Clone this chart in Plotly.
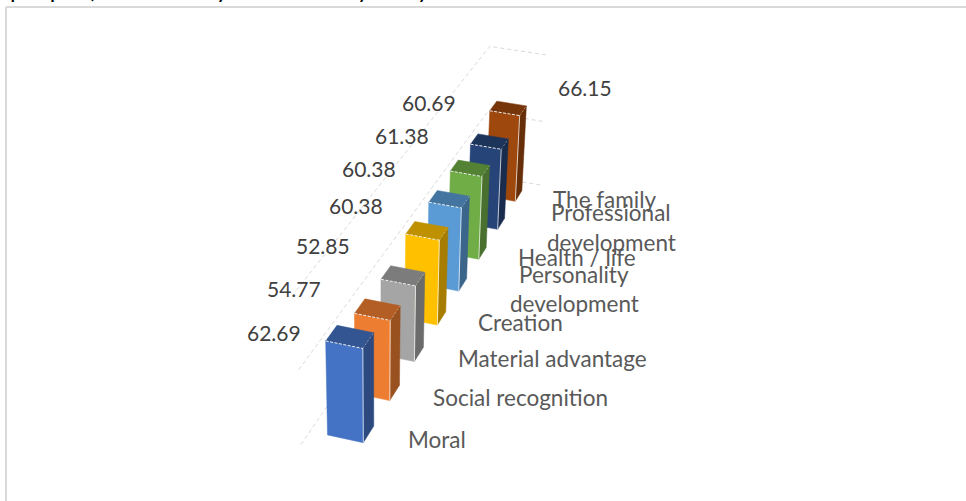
import numpy as np
import plotly.graph_objects as go

# Chart data
categories = ["Moral", "Social recognition", "Material advantage", "Creation",
              "Personality development", "Health / life",
              "Professional development", "The family"]
values = [62.69, 54.77, 52.85, 60.38, 60.38, 61.38, 60.69, 66.15]
colors = ["#4472C4", "#ED7D31", "#A5A5A5", "#FFC000",
          "#5B9BD5", "#70AD47", "#264478", "#9E480E"]
gridline_values = [0, 50, 100]

# Label placement, in page pixels (centre of each text line)
value_label_xy = [(274, 332), (294, 288), (323, 245), (356, 205),
                  (369, 168), (402, 135), (429, 102), (585, 87)]
category_label_lines = [
    ("Moral", 437, 439),
    ("Social recognition", 520, 397),
    ("Material advantage", 552, 358),
    ("Creation", 520, 322),
    ("Personality", 574, 274),
    ("development", 574, 303),
    ("Health / life", 577, 257),
    ("Professional", 611, 212),
    ("development", 611, 242),
    ("The family", 605, 199),
]
# Caption of the page above the chart, cut by the top edge
caption_pieces = [("people (", 8), ("y", 214), ("y", 355), ("y", 415)]

WIDTH, HEIGHT = 966, 501

# Perspective camera of the 3-D column chart: (across, slot / 8, value / 100, 1) -> screen
CAMERA = np.array([
    [66.886, 331.2222, -22.0039, 301.01],
    [10.4584, -215.5409, -171.1568, 444.45653],
    [-0.01106, 0.30459, -0.05851, 1.0],
])
COLUMN_LEFT, COLUMN_RIGHT, COLUMN_HALF_DEPTH = 0.24966, 0.75926, 0.19283
TOP_SHADE, SIDE_SHADE = 0.75, 0.65


def project(points):
    """Map (across, slot, value) points to screen x and y lists."""
    pts = np.array(points, dtype=float)
    h = np.c_[pts[:, 0], pts[:, 1] / 8, pts[:, 2] / 100, np.ones(len(pts))] @ CAMERA.T
    return list(h[:, 0] / h[:, 2]), list(h[:, 1] / h[:, 2])


def shade(hex_color, factor):
    r, g, b = (int(hex_color[i:i + 2], 16) for i in (1, 3, 5))
    return f"rgb({r * factor:.0f},{g * factor:.0f},{b * factor:.0f})"


def add_face(fig, corners, color, name):
    x, y = project(corners + corners[:1])
    fig.add_trace(go.Scatter(x=x, y=y, name=name, mode="lines", fill="toself",
                             fillcolor=color, line=dict(color=color, width=0.5),
                             hoverinfo="name"))


def add_edge(fig, ends, dash, opacity, name):
    x, y = project(ends)
    fig.add_trace(go.Scatter(x=x, y=y, name=name, mode="lines", opacity=opacity,
                             line=dict(color="white", width=1, dash=dash),
                             hoverinfo="skip"))


fig = go.Figure()

# Dashed gridlines on the side wall and the back wall
for level in gridline_values:
    x, y = project([(0, 0, level), (0, 8, level), (1, 8, level)])
    fig.add_trace(go.Scatter(x=x, y=y, mode="lines", hoverinfo="skip",
                             line=dict(color="#DADADA", width=1, dash="4px,3px")))

# Columns, painted from the far end towards the viewer
for slot in reversed(range(len(values))):
    v, col, name = values[slot], colors[slot], categories[slot]
    near = slot + 0.5 - COLUMN_HALF_DEPTH
    far = slot + 0.5 + COLUMN_HALF_DEPTH
    l, r = COLUMN_LEFT, COLUMN_RIGHT
    add_face(fig, [(r, near, 0), (r, far, 0), (r, far, v), (r, near, v)],
             shade(col, SIDE_SHADE), name)
    add_face(fig, [(l, near, 0), (r, near, 0), (r, near, v), (l, near, v)], col, name)
    add_face(fig, [(l, near, v), (r, near, v), (r, far, v), (l, far, v)],
             shade(col, TOP_SHADE), name)
    # Bevel highlights along the near edges
    add_edge(fig, [(l, near, v), (r, near, v)], "3px,1.5px", 0.9, name)
    add_edge(fig, [(r, near, 0), (r, near, v)], "solid", 0.7, name)
    add_edge(fig, [(r, near, v), (r, far, v)], "2px,2px", 0.35, name)

annotations = []
for v, (x, y) in zip(values, value_label_xy):
    annotations.append(dict(x=x, y=y, text=f"{v:.2f}", showarrow=False,
                            font=dict(family="Lato", size=21, color="#404040")))
for text, x, y in category_label_lines:
    annotations.append(dict(x=x, y=y, text=text, showarrow=False,
                            font=dict(family="Lato", size=22.5, color="#595959")))
for text, x in caption_pieces:
    annotations.append(dict(x=x / WIDTH, y=1, xref="paper", yref="paper", text=text,
                            xanchor="left", yanchor="bottom", yshift=-5,
                            showarrow=False,
                            font=dict(family="Lato", size=24, color="black")))

# Chart frame: only the top and left borders fall inside the page
frame = dict(type="line", layer="below", line=dict(color="#D9D9D9", width=2))
fig.update_layout(
    width=WIDTH, height=HEIGHT, showlegend=False,
    margin=dict(l=0, r=0, t=0, b=0),
    paper_bgcolor="white", plot_bgcolor="white",
    xaxis=dict(range=[0, WIDTH], visible=False, fixedrange=True),
    yaxis=dict(range=[HEIGHT, 0], visible=False, fixedrange=True),
    shapes=[dict(frame, x0=6, x1=WIDTH, y0=7, y1=7),
            dict(frame, x0=6, x1=6, y0=7, y1=HEIGHT)],
    annotations=annotations,
)
fig.write_html("out.html")
